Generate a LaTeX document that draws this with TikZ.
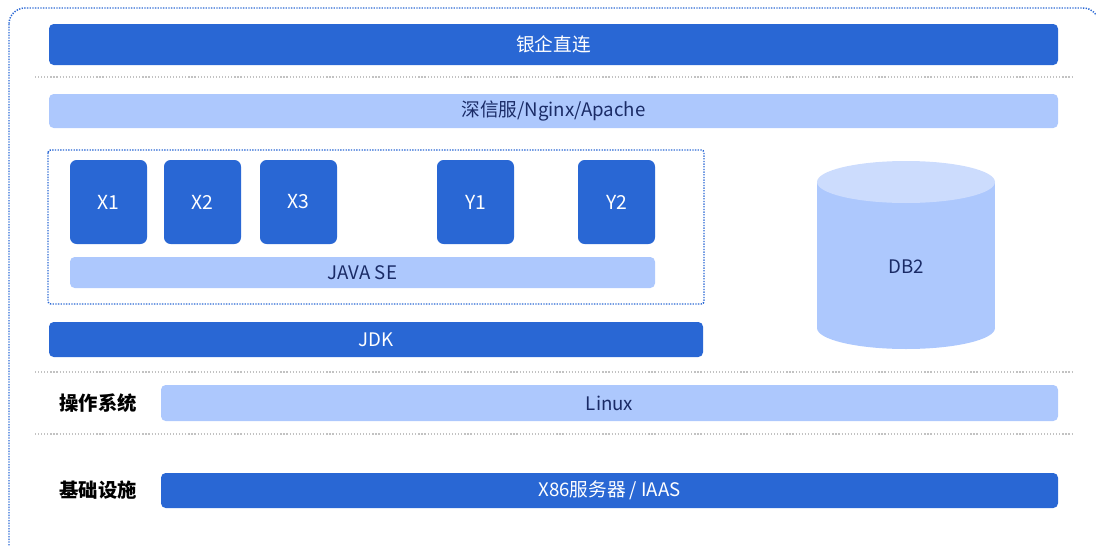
\documentclass[tikz,border=0pt]{standalone}
\usepackage{fontspec}
\setmainfont{Noto Sans CJK SC}
\usepackage{xcolor}
\usepackage{tikz}
\usetikzlibrary{positioning}

\definecolor{bankblue}{HTML}{2967D4}
\definecolor{softblue}{HTML}{ADC8FD}
\definecolor{capblue}{HTML}{CCDCFD}
\definecolor{navytext}{HTML}{1A2B66}
\definecolor{sepgray}{HTML}{C2C2C2}

\newcommand\pxl{0.75pt}

\tikzset{
  box size/.style 2 args={minimum width=#1*\pxl, minimum height=#2*\pxl},
  darkbar/.style={rectangle, rounded corners=3.5pt, fill=bankblue, text=white,
    inner sep=0pt, outer sep=0pt, anchor=north west, font=\fontsize{14}{16}\selectfont},
  lightbar/.style={darkbar, fill=softblue, text=navytext},
  appbox/.style={darkbar, rounded corners=5pt, box size={77}{84}, font=\fontsize{14.5}{17}\selectfont},
  layerlabel/.style={font=\fontsize{14.5}{17}\selectfont\bfseries, text=black},
  frameline/.style={draw=bankblue, line width=1.1pt, dash pattern=on 1pt off 1pt},
  sepline/.style={draw=sepgray, line width=0.9pt, dash pattern=on 0.9pt off 1.4pt},
}

\begin{document}
\begin{tikzpicture}[x=0.75pt, y=-0.75pt]
  \useasboundingbox (0,0) rectangle (1096,546);
  \clip (0,0) rectangle (1096,546);

  % outer frame
  \draw[frameline, rounded corners=12pt] (9,8) rectangle (1099,562);

  % top layers
  \node[darkbar, box size={1009}{41}] (bank) at (49,24) {银企直连};
  \draw[sepline] (35,77) -- (1073,77);
  \node[lightbar, box size={1009}{34}] (proxy) at (49,94) {深信服/Nginx/Apache};

  % applications
  \draw[frameline, rounded corners=2pt] (48,150) rectangle (704,304);
  \node[appbox] (x1) at (70,160) {X1};
  \node[appbox, right=17*\pxl of x1] (x2) {X2};
  \node[appbox, right=19*\pxl of x2] (x3) {X3};
  \node[appbox, right=100*\pxl of x3] (y1) {Y1};
  \node[appbox, right=64*\pxl of y1] (y2) {Y2};
  \node[lightbar, box size={585}{31}] (javase) at (70,257) {JAVA SE};
  \node[darkbar, box size={654}{35}] (jdk) at (49,322) {JDK};

  % database
  \fill[softblue] (817,182) rectangle (995,328);
  \fill[softblue] (906,328) ellipse [x radius=89, y radius=21];
  \fill[capblue] (906,182) ellipse [x radius=89, y radius=21];
  \node[text=navytext, font=\fontsize{14}{16}\selectfont] (db) at (906,267) {DB2};

  % system layers
  \draw[sepline] (35,372) -- (1073,372);
  \node[layerlabel] (oslabel) at (98,403) {操作系统};
  \node[lightbar, box size={897}{36}] (linux) at (161,385) {Linux};
  \draw[sepline] (35,434) -- (1073,434);
  \node[layerlabel] (infralabel) at (98,490) {基础设施};
  \node[darkbar, box size={897}{35}] (iaas) at (161,473) {X86服务器 / IAAS};
\end{tikzpicture}
\end{document}
